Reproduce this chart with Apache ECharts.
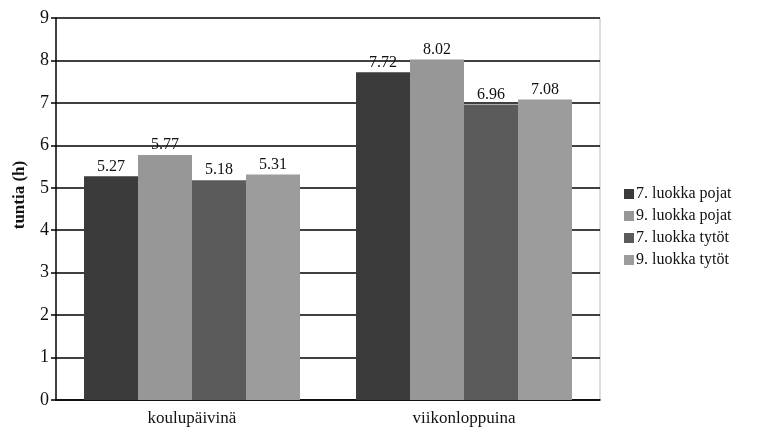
<!DOCTYPE html>
<html><head><meta charset="utf-8">
<script src="https://cdn.jsdelivr.net/npm/echarts@6/dist/echarts.min.js"></script>
<style>html,body{margin:0;padding:0;background:#fff}#c{width:760px;height:445px}</style>
</head><body><div id="c"></div>
<script>
const categories = ['koulupäivinä', 'viikonloppuina'];
const seriesNames = ['7. luokka pojat', '9. luokka pojat', '7. luokka tytöt', '9. luokka tytöt'];
const s7pojat = [5.27, 7.72];
const s9pojat = [5.77, 8.02];
const s7tytot = [5.18, 6.96];
const s9tytot = [5.31, 7.08];
const yTicks = [0, 1, 2, 3, 4, 5, 6, 7, 8, 9];
const yTitle = 'tuntia (h)';
const colors = ['#3b3b3b', '#979797', '#5b5b5b', '#9c9c9c'];
const values = [s7pojat, s9pojat, s7tytot, s9tytot];
const font = '"Liberation Serif", "DejaVu Serif", serif';
const chart = echarts.init(document.getElementById('c'), null, {renderer: 'canvas'});
chart.setOption({
  animation: false,
  textStyle: {fontFamily: font},
  grid: {left: 56, right: 160, top: 18, bottom: 45},
  legend: {
    orient: 'vertical', left: 619, top: 181, itemWidth: 10, itemHeight: 10, itemGap: 6,
    icon: 'rect',
    textStyle: {fontFamily: font, fontSize: 16, color: '#111', padding: [0, 0, 0, -3]},
    data: seriesNames
  },
  xAxis: {
    type: 'category', data: categories,
    axisLine: {lineStyle: {color: '#000', width: 1.5}},
    axisTick: {show: false},
    axisLabel: {fontFamily: font, fontSize: 17, color: '#111', margin: 10}
  },
  yAxis: {
    type: 'value', min: yTicks[0], max: yTicks[yTicks.length - 1], interval: 1,
    axisLine: {show: true, lineStyle: {color: '#000', width: 1.5}},
    axisTick: {show: true, length: 5, lineStyle: {color: '#000', width: 1.5}},
    axisLabel: {fontFamily: font, fontSize: 18, color: '#111', margin: 7},
    splitLine: {lineStyle: {color: '#000', width: 1.5}}
  },
  series: seriesNames.map((n, i) => ({
    name: n, type: 'bar', data: values[i],
    barGap: '0%', barCategoryGap: '20.6%',
    itemStyle: {color: colors[i]},
    label: {show: true, position: 'top', distance: 2, fontFamily: font, fontSize: 16, color: '#111',
      formatter: p => p.value.toFixed(2)}
  })),
  graphic: [
    {type: 'line', shape: {x1: 600, y1: 18, x2: 600, y2: 400}, style: {stroke: '#bbb', lineWidth: 1}},
    {type: 'text', x: 20, y: 195, rotation: Math.PI / 2,
      style: {text: yTitle, font: 'bold 17px ' + font, fill: '#111', textAlign: 'center', textVerticalAlign: 'middle'}}
  ]
});
</script></body></html>
